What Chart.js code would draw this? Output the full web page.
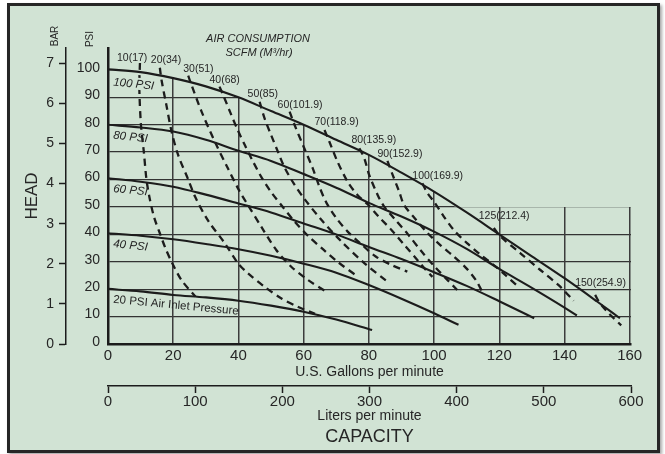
<!DOCTYPE html>
<html>
<head>
<meta charset="utf-8">
<script src="https://cdn.jsdelivr.net/npm/chart.js@4.4.1/dist/chart.umd.min.js"></script>
<style>
  html, body { margin: 0; padding: 0; background: #fff; }
  #frame {
    position: absolute; left: 7px; top: 3px; width: 647px; height: 444px;
    border: 3px solid #262626; background: #d1e3d4;
    box-shadow: 2px 2px 3px rgba(0, 0, 0, .35);
  }
  #wrap { position: absolute; left: 0; top: 0; width: 665px; height: 454px; }
</style>
</head>
<body>
<div id="frame"></div>
<div id="wrap"><canvas id="headChart" width="665" height="454"></canvas></div>
<script>
const gpmTicks = [0, 20, 40, 60, 80, 100, 120, 140, 160];
const lpmTicks = [0, 100, 200, 300, 400, 500, 600];
const psiTicks = [0, 10, 20, 30, 40, 50, 60, 70, 80, 90, 100];
const barTicks = [0, 1, 2, 3, 4, 5, 6, 7];

// air inlet pressure curves, [gpm, psi]
const psi100 = [[0, 100.2], [10, 99.2], [20, 97], [30, 94], [40, 90], [50, 85], [60, 80], [70, 74.5], [80, 69], [90, 62.5], [100, 55.6], [110, 48], [120, 40], [130, 32], [140, 24], [150, 15.5], [157, 9.4]];
const psi80 = [[0, 80], [10, 79], [20, 77.5], [30, 74.5], [40, 70.5], [50, 66.8], [60, 62], [70, 57], [80, 51.5], [90, 46.5], [100, 41], [110, 34.7], [120, 27.4], [130, 20.5], [140, 13.3], [143.8, 10.4]];
const psi60 = [[0, 60.5], [10, 59.2], [20, 57.4], [30, 54.5], [40, 51.3], [50, 48], [60, 44], [70, 40], [80, 35.4], [90, 31], [100, 26.2], [110, 21.2], [120, 15.6], [130.7, 9.4]];
const psi40 = [[0, 40.4], [10, 39.5], [20, 38.2], [30, 36.5], [40, 34.6], [50, 32.2], [60, 29.3], [70, 26], [80, 21.5], [90, 16.5], [100, 11.2], [107.5, 7]];
const psi20 = [[0, 20.1], [10, 19.2], [20, 17.9], [30, 17], [40, 15.8], [50, 14], [60, 11.8], [70, 8.9], [81, 5.1]];
const pressureCurves = [psi100, psi80, psi60, psi40, psi20];
const pressureNames = ['100 PSI', '80 PSI', '60 PSI', '40 PSI', '20 PSI Air Inlet Pressure'];

// air consumption lines, SCFM (m3/hr)
const scfm10 = [[9.8, 102.5], [9.6, 94], [10.1, 80], [11, 70], [11.8, 60], [12.8, 53], [14.2, 46], [15.9, 40.4], [17.6, 35], [19.5, 30], [22.5, 23.4], [26.8, 17.3]];
const scfm20 = [[15.9, 100.8], [16.4, 96.4], [17.9, 87.2], [19.5, 77.5], [21.5, 69], [24.6, 60], [26.8, 53.5], [30.7, 45], [35.8, 36.8], [39.9, 29.4], [42.9, 25.8], [48, 20.9], [53.1, 16.7], [58.2, 13.6], [63.5, 11]];
const scfm30 = [[24.6, 97.9], [25.3, 95.5], [28.7, 84.8], [32.7, 74], [36.8, 64], [40.4, 55.6], [42.5, 51.5], [47, 42.8], [51.6, 34.3], [56.2, 28.2], [61.3, 23.4], [66.9, 19.1]];
const scfm40 = [[34.2, 93.9], [35.3, 90.9], [37.5, 84.5], [39.8, 78], [42, 72.5], [44.5, 66.5], [47, 61], [50, 55.5], [53.6, 50], [57, 45], [61.3, 39.5], [66, 34.5], [70.4, 30], [76.6, 24.6]];
const scfm50 = [[46.5, 88.4], [48, 82.4], [50, 76.3], [52.1, 70.2], [54.1, 64.5], [57, 58.5], [60.2, 53], [65.3, 45.5], [71.5, 37.5], [78.6, 29.5], [85.7, 22.7]];
const scfm60 = [[55.7, 84.8], [57.2, 80], [60.2, 71.4], [62.8, 64.1], [64.8, 57.5], [67, 51.5], [70, 46], [73.5, 41], [77.6, 36.5], [82, 32], [87, 28.8], [91.8, 26.4]];
const scfm70 = [[66.4, 78.1], [67.9, 73.8], [70.4, 66.5], [73.5, 59.2], [76.5, 54.4], [79.6, 51], [83, 46.5], [87, 41.5], [91, 36], [95, 30.5], [97.5, 27], [99.5, 24.5]];
const scfm80 = [[77.1, 71.4], [78.6, 67.8], [80.1, 61.7], [82.7, 54.4], [84.5, 50.5], [88, 45.5], [92, 40], [96, 34], [100, 28.5], [104, 23.5], [107.1, 19.7]];
const scfm90 = [[85.7, 66.8], [87.3, 61.7], [89.3, 55.6], [90.8, 50.7], [94, 46], [98, 40.5], [102, 36], [106, 32], [110, 27.5], [113, 23], [115, 18.5]];
const scfm100 = [[96.4, 58.6], [98, 55], [100, 51.9], [103, 46.5], [106.1, 41.5], [110.2, 36.7], [114.3, 32.5], [118.3, 28.8], [122, 25], [125.5, 21.3]];
const scfm125 = [[118.3, 42.3], [120.4, 39.2], [126.5, 33.1], [132.6, 27], [138.7, 20.9], [142.8, 15.8]];
const scfm150 = [[149.4, 17.9], [150.8, 15], [153.5, 11.3], [157.4, 6.8]];
const scfmLines = [scfm10, scfm20, scfm30, scfm40, scfm50, scfm60, scfm70, scfm80, scfm90, scfm100, scfm125, scfm150];
const scfmNames = ['10(17)', '20(34)', '30(51)', '40(68)', '50(85)', '60(101.9)', '70(118.9)', '80(135.9)', '90(152.9)', '100(169.9)', '125(212.4)', '150(254.9)'];

// where each consumption label sits, px from the top of its line
const scfmLabelShift = [[-23, -2], [-9, -5], [-5, -4], [-10, -4], [-12, -5], [-12, -4], [-10, -5], [-8, -5], [-10, -4], [-10, -4], [-15, -9], [-20, -9]];

const ink = '#1c1c1c';
const gridInk = '#333333';
const textInk = '#262626';
const paper = '#d1e3d4';
const family = '"Liberation Sans", Arial, Helvetica, sans-serif';
Chart.defaults.font.family = family;
Chart.defaults.color = textInk;

const pts = (a) => a.map(([x, y]) => ({ x, y }));

// grid only shows under the 100 psi curve, and up to 50 psi on the right
function gridMask(curve, floor, right) {
  const out = [];
  for (let i = 0; i < curve.length; i++) {
    const [x, y] = curve[i];
    if (y >= floor) { out.push({ x, y }); continue; }
    const [px, py] = curve[i - 1];
    out.push({ x: px + (x - px) * (py - floor) / (py - y), y: floor });
    break;
  }
  out.push({ x: right, y: floor });
  return out;
}

const solid = (d) => ({
  data: pts(d), xAxisID: 'x', yAxisID: 'y',
  borderColor: ink, borderWidth: 2.1, pointRadius: 0,
  cubicInterpolationMode: 'monotone', fill: false
});
const dashed = (d) => ({
  data: pts(d), xAxisID: 'x', yAxisID: 'y',
  borderColor: ink, borderWidth: 2.3, borderDash: [7, 5],
  borderCapStyle: 'butt', pointRadius: 0, tension: 0.3, fill: false
});

const maskSet = {
  data: gridMask(psi100, 50, 161), xAxisID: 'x', yAxisID: 'y',
  borderWidth: 0, pointRadius: 0,
  cubicInterpolationMode: 'monotone', fill: 'end', backgroundColor: paper, order: 10
};

const fixedTicks = (list) => (s) => { s.ticks = list.map((v) => ({ value: v })); };

const curveLabels = {
  id: 'curveLabels',
  afterDraw(chart) {
    const { ctx, chartArea, scales: { x, y } } = chart;
    ctx.save();
    ctx.fillStyle = textInk;
    ctx.textBaseline = 'alphabetic';
    ctx.textAlign = 'left';

    // pressure curve names
    pressureCurves.forEach((c, i) => {
      const px = x.getPixelForValue(c[0][0]) + 5;
      const py = y.getPixelForValue(c[0][1]) + (i === 0 ? 16 : 13.8);
      ctx.save();
      ctx.translate(px, py);
      ctx.rotate(i === 4 ? 0.094 : 0.1);
      ctx.font = (i === 4 ? '' : 'italic ') + '11.5px ' + family;
      if (i === 0) {
        const w = ctx.measureText(pressureNames[i]).width;
        ctx.fillStyle = paper;
        ctx.fillRect(-1, -10, w + 2, 12);
        ctx.fillStyle = textInk;
      }
      ctx.fillText(pressureNames[i], 0, 0);
      ctx.restore();
    });

    // air consumption names
    ctx.font = '10.5px ' + family;
    scfmLines.forEach((l, i) => {
      const px = x.getPixelForValue(l[0][0]) + scfmLabelShift[i][0];
      const py = y.getPixelForValue(l[0][1]) + scfmLabelShift[i][1];
      ctx.fillText(scfmNames[i], px, py);
    });

    ctx.textAlign = 'center';
    ctx.textBaseline = 'middle';
    ctx.font = 'italic 11px ' + family;
    ctx.fillText('AIR CONSUMPTION', 258, 39);
    ctx.fillText('SCFM (M\u00b3/hr)', 259, 53);

    ctx.font = '18px ' + family;
    ctx.fillText('CAPACITY', (chartArea.left + chartArea.right) / 2, 437);

    ctx.font = '10px ' + family;
    [['BAR', 55, 36], ['PSI', 90, 39]].forEach(([t, tx, ty]) => {
      ctx.save();
      ctx.translate(tx, ty);
      ctx.rotate(-Math.PI / 2);
      ctx.fillText(t, 0, 0);
      ctx.restore();
    });
    ctx.restore();
  }
};

const ctx = document.getElementById('headChart');

new Chart(ctx, {
  type: 'line',
  data: {
    datasets: [
      maskSet,
      ...pressureCurves.map(solid),
      ...scfmLines.map(dashed)
    ]
  },
  options: {
    responsive: false,
    animation: false,
    events: [],
    layout: { padding: { left: 0, right: 34, top: 48, bottom: 28 } },
    plugins: {
      legend: { display: false },
      tooltip: { enabled: false }
    },
    scales: {
      bar: {
        type: 'linear', position: 'left', weight: 1, min: 0, max: 7.38,
        afterBuildTicks: fixedTicks(barTicks),
        afterFit: (s) => { s.width = 66; },
        grid: { drawOnChartArea: false, drawTicks: true, tickLength: 7, tickWidth: 1.5, tickColor: ink, color: ink },
        border: { display: true, color: ink, width: 1.5 },
        ticks: { padding: 5, font: { size: 14 }, color: textInk },
        title: { display: true, text: 'HEAD', font: { size: 17 }, color: textInk, padding: { top: 22, bottom: 0 } }
      },
      y: {
        type: 'linear', position: 'left', weight: 0, min: 0, max: 108,
        afterBuildTicks: fixedTicks(psiTicks),
        afterFit: (s) => { s.width = 42; },
        grid: { color: gridInk, lineWidth: 1.3, drawTicks: false },
        border: { color: ink, width: 2.5, z: 1 },
        ticks: { padding: 8, font: { size: 14 }, color: textInk, labelOffset: -2 }
      },
      x: {
        type: 'linear', position: 'bottom', weight: 0, min: 0, max: 160.4,
        afterBuildTicks: fixedTicks(gpmTicks),
        afterFit: (s) => { s.height = 42; },
        grid: { color: '#3c3c3c', lineWidth: 1.5, drawTicks: false },
        border: { color: ink, width: 2.5, z: 1 },
        ticks: { padding: 3, font: { size: 15 }, color: textInk, maxRotation: 0 },
        title: { display: true, text: 'U.S. Gallons per minute', font: { size: 14 }, color: textInk, padding: { top: 0, bottom: 5 } }
      },
      lpm: {
        type: 'linear', position: 'bottom', weight: 1, min: 0, max: 600,
        afterBuildTicks: fixedTicks(lpmTicks),
        afterFit: (s) => { s.height = 40; },
        grid: { drawOnChartArea: false, drawTicks: true, tickLength: 7, tickWidth: 1.5, tickColor: ink, color: ink },
        border: { color: ink, width: 1.5 },
        ticks: { padding: 0, font: { size: 15 }, color: textInk, maxRotation: 0 },
        title: { display: true, text: 'Liters per minute', font: { size: 14 }, color: textInk, padding: { top: 0, bottom: 1 } }
      }
    }
  },
  plugins: [curveLabels]
});
</script>
</body>
</html>
